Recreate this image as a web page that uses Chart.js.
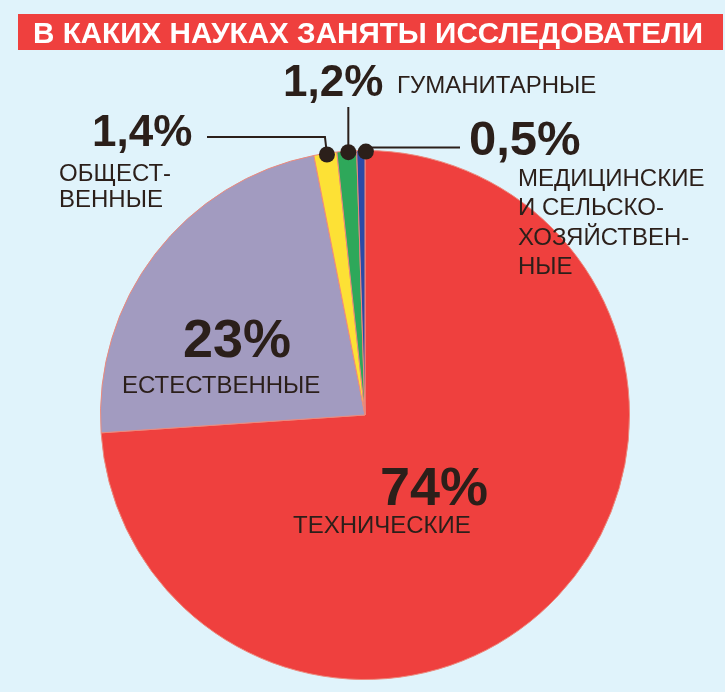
<!DOCTYPE html>
<html>
<head>
<meta charset="utf-8">
<script src="https://cdn.jsdelivr.net/npm/chart.js@4.4.1/dist/chart.umd.min.js"></script>
<style>
  html, body { margin: 0; padding: 0; background: #e0f3fb; }
  #wrap { width: 725px; height: 692px; }
</style>
</head>
<body>
<div id="wrap"><canvas id="c" width="725" height="692"></canvas></div>
<script>
// ---- data ----
const title = 'В КАКИХ НАУКАХ ЗАНЯТЫ ИССЛЕДОВАТЕЛИ';
const categories = ['Технические', 'Естественные', 'Общественные', 'Гуманитарные', 'Медицинские и сельскохозяйственные'];
const values = [74, 23, 1.4, 1.2, 0.5];
const valueLabels = ['74%', '23%', '1,4%', '1,2%', '0,5%'];
const nameLines = [
  ['ТЕХНИЧЕСКИЕ'],
  ['ЕСТЕСТВЕННЫЕ'],
  ['ОБЩЕСТ-', 'ВЕННЫЕ'],
  ['ГУМАНИТАРНЫЕ'],
  ['МЕДИЦИНСКИЕ', 'И СЕЛЬСКО-', 'ХОЗЯЙСТВЕН-', 'НЫЕ']
];
const colors = ['#ef403e', '#a29bc0', '#fde135', '#2ea85a', '#2c4aa6'];

// ---- layout (positions/styles) ----
const FONT = "'Liberation Sans', Arimo, Arial, sans-serif";
const INK = '#2b1f1a';
const valuePos = [
  { x: 380, y: 505, size: 54 },
  { x: 183, y: 357, size: 54 },
  { x: 92,  y: 146, size: 44 },
  { x: 283, y: 96,  size: 44 },
  { x: 469, y: 155, size: 49 }
];
const namePos = [
  { x: 293, y: 533, lh: 28 },
  { x: 122, y: 393, lh: 28 },
  { x: 59,  y: 181, lh: 26 },
  { x: 397, y: 93,  lh: 28 },
  { x: 518, y: 186, lh: 29.3 }
];
// leader lines for small slices: index -> path description
const leaders = {
  2: { shift: 1.5, path: (d) => [[d.x, d.y], [d.x - 2, 137], [207, 137]] },
  3: { shift: 1.5, path: (d) => [[d.x, d.y], [d.x, 107]] },
  4: { shift: 5,   path: (d) => [[d.x, d.y - 4], [460, d.y - 4]] }
};

const deco = {
  id: 'deco',
  beforeDraw(chart) {
    const ctx = chart.ctx;
    ctx.save();
    ctx.fillStyle = '#e0f3fb';
    ctx.fillRect(0, 0, chart.width, chart.height);
    // title bar
    ctx.fillStyle = '#ef403e';
    ctx.fillRect(18, 14, 705, 36);
    ctx.fillStyle = '#ffffff';
    ctx.font = 'bold 29px ' + FONT;
    ctx.textBaseline = 'alphabetic';
    ctx.textAlign = 'left';
    const w = ctx.measureText(title).width;
    const target = 670;
    ctx.translate(33, 43);
    ctx.scale(target / w, 1);
    ctx.fillText(title, 0, 0);
    ctx.restore();
  },
  afterDatasetsDraw(chart) {
    const ctx = chart.ctx;
    const meta = chart.getDatasetMeta(0);
    ctx.save();
    // leader lines + dots
    Object.keys(leaders).forEach((k) => {
      const i = +k;
      const arc = meta.data[i];
      const mid = (arc.startAngle + arc.endAngle) / 2;
      const r = arc.outerRadius - 1;
      const d = { x: arc.x + Math.cos(mid) * r + leaders[i].shift, y: arc.y + Math.sin(mid) * r };
      const pts = leaders[i].path(d);
      ctx.strokeStyle = INK;
      ctx.lineWidth = 2;
      ctx.beginPath();
      pts.forEach((p, j) => (j ? ctx.lineTo(p[0], p[1]) : ctx.moveTo(p[0], p[1])));
      ctx.stroke();
      ctx.fillStyle = INK;
      ctx.beginPath();
      ctx.arc(d.x, d.y, 8, 0, Math.PI * 2);
      ctx.fill();
    });
    // texts
    ctx.fillStyle = INK;
    ctx.textAlign = 'left';
    ctx.textBaseline = 'alphabetic';
    valueLabels.forEach((t, i) => {
      const p = valuePos[i];
      ctx.font = 'bold ' + p.size + 'px ' + FONT;
      ctx.fillText(t, p.x, p.y);
    });
    nameLines.forEach((lines, i) => {
      const p = namePos[i];
      ctx.font = '24px ' + FONT;
      lines.forEach((ln, j) => ctx.fillText(ln, p.x, p.y + j * p.lh));
    });
    ctx.restore();
  }
};

new Chart(document.getElementById('c'), {
  type: 'pie',
  data: {
    labels: categories,
    datasets: [{
      data: values,
      backgroundColor: colors,
      borderColor: '#ec8a7e',
      borderWidth: 1,
      hoverOffset: 0
    }]
  },
  options: {
    responsive: false,
    animation: false,
    events: [],
    layout: { padding: { left: 100, right: 95, top: 150, bottom: 12 } },
    plugins: { legend: { display: false }, tooltip: { enabled: false } }
  },
  plugins: [deco]
});
</script>
</body>
</html>
